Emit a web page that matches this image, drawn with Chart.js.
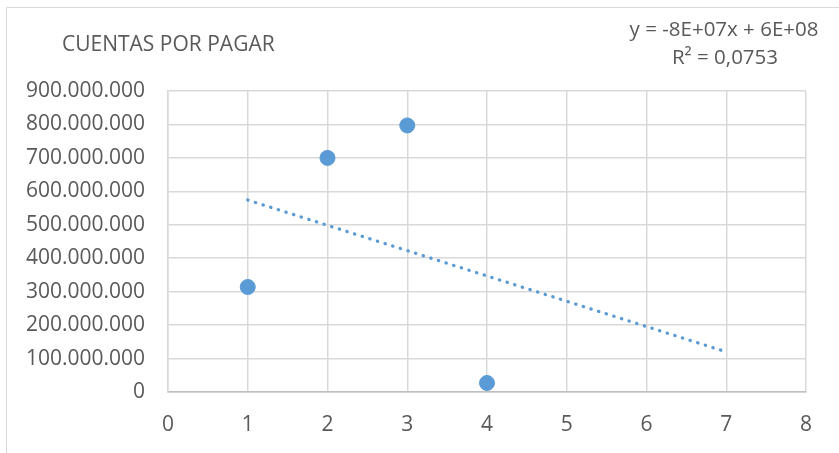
<!DOCTYPE html>
<html>
<head>
<meta charset="utf-8">
<script src="https://cdn.jsdelivr.net/npm/chart.js@4.4.1/dist/chart.umd.min.js"></script>
<style>
    html, body { margin: 0; padding: 0; background: #ffffff; }
    #wrap { width: 839px; height: 453px; position: relative; }
</style>
</head>
<body>
<div id="wrap"><canvas id="cuentasChart" width="839" height="453"></canvas></div>
<script>
// data
const periodos = [1, 2, 3, 4];
const cuentasPorPagar = [314000000, 700000000, 797000000, 27000000];
// trendline ends (Excel linear trend, forward to x = 7)
const trendX = [1, 7];
const trendY = [574000000, 120000000];
const xTicks = [0, 1, 2, 3, 4, 5, 6, 7, 8];
const yMax = 900000000;

const titulo = "CUENTAS POR PAGAR";
const ecuacion = ["y = -8E+07x + 6E+08", "R² = 0,0753"];

const FONT = "'Open Sans', 'Noto Sans', sans-serif";
const TEXT = "#595959";
const BLUE = "#5B9BD5";

function miles(v) {
    return String(v).replace(/\B(?=(\d{3})+(?!\d))/g, ".");
}

const textosPlugin = {
    id: "textos",
    beforeDraw(chart) {
        const c = chart.ctx;
        c.save();
        c.strokeStyle = "#d9d9d9";
        c.lineWidth = 1;
        c.beginPath();
        c.moveTo(6.5, 453);
        c.lineTo(6.5, 7.5);
        c.lineTo(839, 7.5);
        c.stroke();
        c.restore();
    },
    afterDraw(chart) {
        const c = chart.ctx;
        c.save();
        c.fillStyle = TEXT;
        c.textBaseline = "middle";
        c.font = "21px " + FONT;
        c.textAlign = "left";
        c.fillText(titulo, 62, 45);
        c.font = "20.5px " + FONT;
        c.textAlign = "center";
        c.fillText(ecuacion[0], 724, 30);
        c.fillText(ecuacion[1], 725, 58);
        c.restore();
    }
};

new Chart(document.getElementById("cuentasChart").getContext("2d"), {
    type: "scatter",
    data: {
        datasets: [{
            label: "Cuentas por pagar",
            data: periodos.map((x, i) => ({ x: x, y: cuentasPorPagar[i] })),
            backgroundColor: BLUE,
            borderColor: BLUE,
            pointRadius: 7.5,
            pointHoverRadius: 7.5,
            order: 1
        }, {
            label: "Lineal",
            type: "line",
            data: trendX.map((x, i) => ({ x: x, y: trendY[i] })),
            borderColor: BLUE,
            borderWidth: 3.3,
            borderDash: [0.3, 7.7],
            borderCapStyle: "round",
            pointRadius: 0,
            fill: false,
            order: 2
        }]
    },
    options: {
        responsive: false,
        animation: false,
        layout: {
            padding: { left: 0, top: 91, right: 33, bottom: 0 }
        },
        plugins: {
            legend: { display: false },
            tooltip: { enabled: false }
        },
        scales: {
            x: {
                type: "linear",
                min: 0,
                max: 8,
                afterBuildTicks(scale) {
                    scale.ticks = xTicks.map(v => ({ value: v }));
                },
                afterFit(scale) {
                    scale.height = 61;
                },
                grid: { color: "#d9d9d9", lineWidth: 1.5, drawTicks: false },
                border: { color: "#bfbfbf", width: 1.5 },
                ticks: {
                    padding: 20,
                    color: TEXT,
                    font: { family: FONT, size: 21 }
                }
            },
            y: {
                min: 0,
                max: yMax,
                afterFit(scale) {
                    scale.width = 168;
                },
                grid: { color: "#d9d9d9", lineWidth: 1.5, drawTicks: false },
                border: { color: "#d9d9d9", width: 1.5 },
                ticks: {
                    stepSize: 100000000,
                    padding: 23,
                    color: TEXT,
                    font: { family: FONT, size: 21 },
                    callback(value) {
                        return miles(value);
                    }
                }
            }
        }
    },
    plugins: [textosPlugin]
});
</script>
</body>
</html>
